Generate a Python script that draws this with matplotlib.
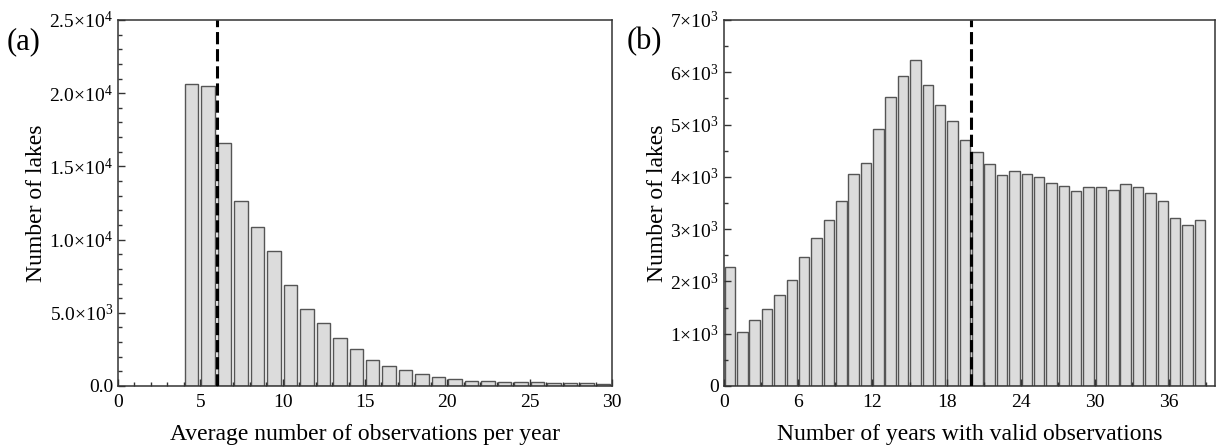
import numpy as np
import matplotlib
matplotlib.use('Agg')
from matplotlib import pyplot as plt
from matplotlib.ticker import MultipleLocator, FuncFormatter

plt.rcParams['font.family'] = ['Liberation Serif', 'DejaVu Serif']
plt.rcParams['mathtext.fontset'] = 'custom'
plt.rcParams['mathtext.rm'] = 'Liberation Serif'
plt.rcParams['mathtext.it'] = 'Liberation Serif:italic'

# (a) average number of observations per year, bins of width 1 starting at 4
obs_bins = np.arange(4, 30)
obs_counts = [20640, 20500, 16600, 12640, 10860, 9230, 6900, 5270, 4320, 3300,
              2500, 1800, 1360, 1110, 820, 600, 500, 360, 320, 300,
              270, 270, 230, 220, 180, 150]

# (b) number of years with valid observations, 0..38
year_bins = np.arange(0, 39)
year_counts = [2270, 1030, 1260, 1470, 1740, 2020, 2460, 2830, 3180, 3530,
               4060, 4270, 4920, 5530, 5920, 6230, 5760, 5370, 5060, 4700,
               4470, 4250, 4040, 4110, 4060, 4000, 3880, 3830, 3720, 3810,
               3800, 3750, 3860, 3800, 3690, 3530, 3210, 3070, 3170]

bar_face = '#dcdcdc'
bar_edge = '#555555'


def sci_a(v, pos):
    if v <= 0:
        return '0.0'
    e = int(np.floor(np.log10(v)))
    m = v / 10 ** e
    return r'%.1f$\times$10$^{%d}$' % (m, e)


def sci_b(v, pos):
    if v <= 0:
        return '0'
    e = int(np.floor(np.log10(v)))
    m = v / 10 ** e
    return r'%d$\times$10$^{%d}$' % (round(m), e)


fig = plt.figure(figsize=(12.16, 4.46), dpi=100)
ax1 = fig.add_axes([118 / 1216, 60 / 446, 494 / 1216, 366 / 446])
ax2 = fig.add_axes([724 / 1216, 60 / 446, 491 / 1216, 366 / 446])

ax1.bar(obs_bins + 0.47, obs_counts, width=0.82, color=bar_face,
        edgecolor=bar_edge, linewidth=1)
ax1.axvline(6, color='black', linestyle=(0, (4, 1.6)), linewidth=2.2, zorder=3)
ax1.set_xlim(0, 30)
ax1.set_ylim(0, 25000)
ax1.xaxis.set_major_locator(MultipleLocator(5))
ax1.xaxis.set_minor_locator(MultipleLocator(1))
ax1.yaxis.set_major_locator(MultipleLocator(5000))
ax1.yaxis.set_minor_locator(MultipleLocator(1000))
ax1.yaxis.set_major_formatter(FuncFormatter(sci_a))
ax1.set_xlabel('Average number of observations per year', fontsize=17, labelpad=9)
ax1.set_ylabel('Number of lakes', fontsize=17, labelpad=2)
fig.text(7 / 1216, 1 - 42 / 446, '(a)', fontsize=22, va='center', ha='left')

ax2.bar(year_bins + 0.48, year_counts, width=0.85, color=bar_face,
        edgecolor=bar_edge, linewidth=1)
ax2.axvline(20, color='black', linestyle=(0, (4, 1.6)), linewidth=2.2, zorder=3)
ax2.set_xlim(0, 39.7)
ax2.set_ylim(0, 7000)
ax2.xaxis.set_major_locator(MultipleLocator(6))
ax2.xaxis.set_minor_locator(MultipleLocator(3))
ax2.yaxis.set_major_locator(MultipleLocator(1000))
ax2.yaxis.set_minor_locator(MultipleLocator(500))
ax2.yaxis.set_major_formatter(FuncFormatter(sci_b))
ax2.set_xlabel('Number of years with valid observations', fontsize=17, labelpad=9)
ax2.set_ylabel('Number of lakes', fontsize=17, labelpad=2)
fig.text(627 / 1216, 1 - 42 / 446, '(b)', fontsize=22, va='center', ha='left')

for ax in (ax1, ax2):
    for s in ax.spines.values():
        s.set_color('#333333')
        s.set_linewidth(1.1)
    ax.tick_params(which='both', direction='in', top=False, right=False,
                   labelsize=14, color='#333333')
    ax.tick_params(which='major', length=5, width=1)
    ax.tick_params(which='minor', length=3, width=1)
    ax.tick_params(axis='x', pad=6)

fig.savefig('out.png', dpi=100)
